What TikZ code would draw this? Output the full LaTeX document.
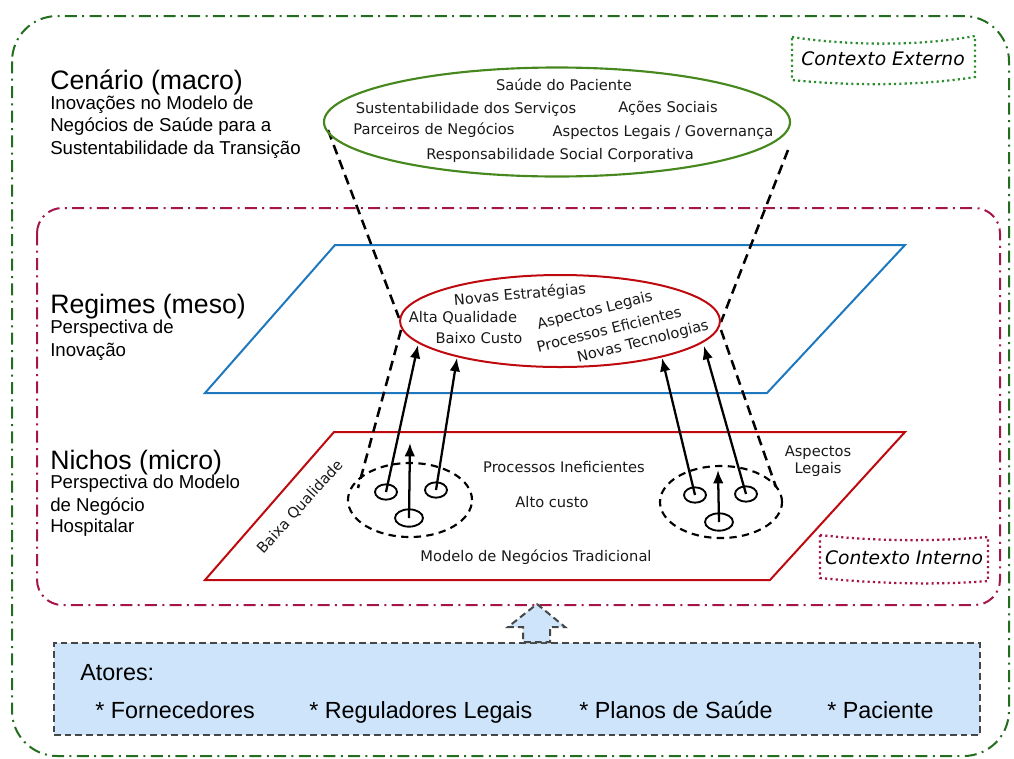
\documentclass[tikz,border=0pt]{standalone}
\usepackage{fontspec}
\setmainfont{Liberation Sans}
\newfontfamily\vfont{DejaVu Sans}
\usetikzlibrary{shapes.geometric,arrows.meta}

\definecolor{extgreen}{RGB}{35,110,30}
\definecolor{macrogreen}{RGB}{70,135,30}
\definecolor{tapegreen}{RGB}{45,140,45}
\definecolor{intcrimson}{RGB}{165,20,75}
\definecolor{mesoblue}{RGB}{30,120,190}
\definecolor{microred}{RGB}{190,10,15}
\definecolor{actorfill}{RGB}{205,228,250}
\definecolor{actorline}{RGB}{70,70,70}

\begin{document}
\begin{tikzpicture}[x=0.75pt,y=-0.75pt,
  frameext/.style={draw=extgreen, line width=1.5pt, dash pattern=on 9pt off 4pt on 1.5pt off 4pt, rounded corners=34pt},
  frameint/.style={draw=intcrimson, line width=1.5pt, dash pattern=on 9pt off 4pt on 1.5pt off 4pt, rounded corners=19pt},
  tape/.style={line width=1.7pt, dash pattern=on 1.6pt off 2.4pt, fill=white},
  tapetxt/.style={inner sep=0, font=\vfont\itshape\fontsize{14}{16}\selectfont},
  heading/.style={anchor=base west, inner sep=0, font=\fontsize{20}{24}\selectfont},
  subhead/.style={anchor=base west, inner sep=0, font=\fontsize{14}{16}\selectfont},
  itemtxt/.style={inner sep=0, text=black!90, font=\vfont\fontsize{11}{13}\selectfont},
  plane/.style={line width=1.5pt, line join=miter},
  funnel/.style={black, line width=1.9pt, dash pattern=on 7.5pt off 4.5pt},
  niche/.style={draw, ellipse, line width=1.6pt, dash pattern=on 5.5pt off 4pt, inner sep=0},
  actor/.style={draw, ellipse, line width=1.4pt, fill=white, inner sep=0},
  push/.style={line width=1.7pt, -{Latex[length=10pt,width=8pt]}},
  actortxt/.style={anchor=base west, inner sep=0, font=\fontsize{17.5}{20}\selectfont},
]
\useasboundingbox (0,0) rectangle (1014,758);

% context frames
\draw[frameext] (12,16) rectangle (1009,756);
\draw[frameint] (37,208) rectangle (1000,605);

% external context tag
\draw[tape, draw=tapegreen] (792,37) .. controls (850,46) and (920,46) .. (975,36)
  -- (975,77) .. controls (920,86) and (850,86) .. (792,80) -- cycle;
\node[tapetxt] (ctxext) at (883,59) {Contexto Externo};

% levels on the left
\node[heading] (hmacro) at (50,89) {Cenário (macro)};
\node[subhead] (smacro1) at (50,109) {Inovações no Modelo de};
\node[subhead] (smacro2) at (50,131) {Negócios de Saúde para a};
\node[subhead] (smacro3) at (50,154) {Sustentabilidade da Transição};

\node[heading] (hmeso) at (50,313) {Regimes (meso)};
\node[subhead] (smeso1) at (50,333) {Perspectiva de};
\node[subhead] (smeso2) at (50,356) {Inovação};

\node[heading] (hmicro) at (50,469) {Nichos (micro)};
\node[subhead] (smicro1) at (50,488) {Perspectiva do Modelo};
\node[subhead] (smicro2) at (50,511) {de Negócio};
\node[subhead] (smicro3) at (50,532) {Hospitalar};

% regime and niche planes
\draw[plane, mesoblue] (335,245) -- (905,245) -- (767,393) -- (205,393) -- cycle;
\draw[plane, microred] (334,432) -- (905,432) -- (770,580) -- (205,580) -- cycle;

% funnel between levels
\coordinate (fl1) at (328,130);
\coordinate (fl2) at (399,318);
\coordinate (fr1) at (788,150);
\coordinate (fr2) at (721,322);
\coordinate (fl3) at (401,330);
\coordinate (fl4) at (358,488);
\coordinate (fr3) at (721,330);
\coordinate (fr4) at (776,487);
\draw[funnel] (fl1) -- (fl2);
\draw[funnel] (fr1) -- (fr2);
\draw[funnel] (fl3) -- (fl4);
\draw[funnel] (fr3) -- (fr4);

% macro landscape
\node[draw=macrogreen, line width=1.6pt, ellipse, minimum width=349.5pt, minimum height=81.75pt, inner sep=0] (macro) at (557,122) {};
\node[itemtxt] (m1) at (564,85) {Saúde do Paciente};
\node[itemtxt] (m2) at (466,109) {Sustentabilidade dos Serviços};
\node[itemtxt] (m3) at (668,108) {Ações Sociais};
\node[itemtxt] (m4) at (434,130) {Parceiros de Negócios};
\node[itemtxt] (m5) at (663,132) {Aspectos Legais / Governança};
\node[itemtxt] (m6) at (560,155) {Responsabilidade Social Corporativa};

% meso regime
\node[draw=microred, fill=white, line width=1.5pt, ellipse, minimum width=240pt, minimum height=69pt, inner sep=0] (meso) at (560,321) {};
\node[itemtxt, rotate=5] (r1) at (520,295) {Novas Estratégias};
\node[itemtxt] (r2) at (463,318) {Alta Qualidade};
\node[itemtxt] (r3) at (479,338) {Baixo Custo};
\node[itemtxt, rotate=14] (r4) at (595,311) {Aspectos Legais};
\node[itemtxt, rotate=14] (r5) at (609,329) {Processos Eficientes};
\node[itemtxt, rotate=14] (r6) at (643,342) {Novas Tecnologias};

% niche plane texts
\node[itemtxt] (n1) at (564,467) {Processos Ineficientes};
\node[itemtxt] (n2) at (552,502) {Alto custo};
\node[itemtxt] (n3) at (536,557) {Modelo de Negócios Tradicional};
\node[itemtxt, align=center] (n4) at (818,461) {Aspectos\\Legais};
\node[itemtxt, rotate=48] (n5) at (300,507) {Baixa Qualidade};

% niches
\node[niche, minimum width=93pt, minimum height=55.5pt] (nicheL) at (410,500) {};
\node[niche, minimum width=91.5pt, minimum height=54pt] (nicheR) at (721,502) {};

\node[actor, minimum width=16.5pt, minimum height=11.5pt] (aL1) at (386,492) {};
\node[actor, minimum width=16.5pt, minimum height=11.5pt] (aL2) at (436,490) {};
\node[actor, minimum width=21pt, minimum height=13pt] (aL3) at (409,518) {};
\node[actor, minimum width=16.5pt, minimum height=11.5pt] (aR1) at (695,495) {};
\node[actor, minimum width=16.5pt, minimum height=11.5pt] (aR2) at (746,494) {};
\node[actor, minimum width=21pt, minimum height=13pt] (aR3) at (719,522) {};

\coordinate (tL1) at (418,345);
\coordinate (tL2) at (457,358);
\coordinate (tL3) at (410,443);
\coordinate (tR1) at (662,358);
\coordinate (tR2) at (704,346);
\coordinate (tR3) at (718,470);
\draw[push] (aL1.center) -- (tL1);
\draw[push] (aL2.center) -- (tL2);
\draw[push] (aL3.center) -- (tL3);
\draw[push] (aR1.center) -- (tR1);
\draw[push] (aR2.center) -- (tR2);
\draw[push] (aR3.center) -- (tR3);

% internal context tag
\draw[tape, draw=intcrimson] (820,535) .. controls (880,542) and (940,541) .. (988,537)
  -- (988,581) .. controls (940,585) and (880,584) .. (820,578) -- cycle;
\node[tapetxt] (ctxint) at (904,558) {Contexto Interno};

% actors
\node[draw=actorline, fill=actorfill, line width=1.5pt, dash pattern=on 5pt off 3pt, minimum width=694.5pt, minimum height=69pt, inner sep=0] (actors) at (517,689) {};
\draw[fill=actorfill, draw=actorline, line width=1.5pt, dash pattern=on 5pt off 3pt, line join=miter]
  (537,604) -- (565,627) -- (550,627) -- (550,642) -- (523,642) -- (523,627) -- (508,627) -- cycle;
\node[actortxt] (atitle) at (80,680) {Atores:};
\node[actortxt] (act1) at (95,718) {* Fornecedores};
\node[actortxt] (act2) at (309,718) {* Reguladores Legais};
\node[actortxt] (act3) at (579,718) {* Planos de Saúde};
\node[actortxt] (act4) at (827,718) {* Paciente};
\end{tikzpicture}
\end{document}
